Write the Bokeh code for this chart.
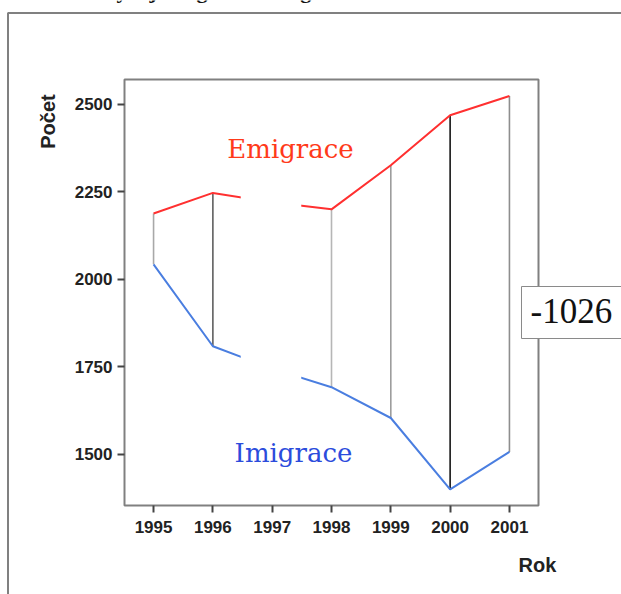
from math import pi
from bokeh.plotting import figure
from bokeh.models import Label, BoxAnnotation, Range1d, FixedTicker
from bokeh.core.properties import value
from bokeh.embed import file_html
from bokeh.resources import INLINE

# ---- data ----
years = [1995, 1996, 1997, 1998, 1999, 2000, 2001]
emigrace = [2188, 2247, 2220, 2200, 2326, 2469, 2524]
imigrace = [2043, 1809, 1745, 1692, 1604, 1400, 1507]
hidden_year = 1997
saldo_text = "-1026"
y_ticks = [1500, 1750, 2000, 2250, 2500]
series_names = ["Emigrace", "Imigrace"]
x_title = "Rok"
y_title = "Počet"
chart_title = "Vývoj emigrace a imigrace"

# ---- styles / geometry ----
connector_colors = ["#a8a8a8", "#5e5e5e", "#888888", "#b6b6b6", "#9c9c9c", "#151515", "#8e8e8e"]
W, H = 621, 594
PL, PR, PT, PB = 124, 538, 79, 505          # plot rectangle in pixels
X0, X1 = 1994.51, 2001.49                   # data extent of the plot rectangle
Y0, Y1 = 1354, 2571


def dx(px):
    return X0 + (px - PL) / (PR - PL) * (X1 - X0)


def dy(py):
    return Y1 - (py - PT) / (PB - PT) * (Y1 - Y0)


p = figure(width=W, height=H, output_backend="svg", toolbar_location=None,
           x_range=Range1d(dx(0), dx(W)), y_range=Range1d(dy(H), dy(0)),
           min_border=0)

p.xgrid.visible = False
p.ygrid.visible = False
p.outline_line_color = None
p.background_fill_color = "white"
p.border_fill_color = "white"

p.xaxis.ticker = FixedTicker(ticks=years)
p.yaxis.ticker = FixedTicker(ticks=y_ticks)
p.xaxis.fixed_location = Y0
p.yaxis.fixed_location = X0
for ax in (p.xaxis, p.yaxis):
    ax.axis_line_color = None
    ax.major_tick_in = 0
    ax.major_tick_out = 7
    ax.major_tick_line_width = 2
    ax.major_tick_line_color = "#444444"
    ax.minor_tick_line_color = None
    ax.major_label_text_font = "Liberation Sans"
    ax.major_label_text_font_style = "bold"
    ax.major_label_text_font_size = "17px"
    ax.major_label_text_color = "#222222"
p.xaxis.major_label_standoff = 8
p.yaxis.major_label_standoff = 5

# plot rectangle
p.add_layout(BoxAnnotation(left=X0, right=X1, bottom=Y0, top=Y1, fill_color=None,
                           line_color="#808080", line_alpha=1.0, line_width=2,
                           level="underlay"))

# connectors
p.segment(x0=years, y0=imigrace, x1=years, y1=emigrace,
          line_color=connector_colors, line_width=1.6)
# series lines
p.line(years, emigrace, line_color="#ff3030", line_width=2)
p.line(years, imigrace, line_color="#4a7ee0", line_width=2)
# white mask over the hidden year
p.quad(left=[hidden_year - 0.53], right=[hidden_year + 0.49],
       bottom=[Y0 + 10], top=[Y1 - 10], fill_color="white", line_color=None)

# series names
p.text(x=[dx(290)], y=[dy(148)], text=[series_names[0]],
       text_font=value("DejaVu Serif"), text_font_size="26px",
       text_color="#ff3a1a", text_align="center", text_baseline="alphabetic")
p.text(x=[dx(293)], y=[dy(452)], text=[series_names[1]],
       text_font=value("DejaVu Serif"), text_font_size="26px",
       text_color="#2b4cdc", text_align="center", text_baseline="alphabetic")

# axis titles
p.add_layout(Label(x=dx(47), y=dy(121), text=y_title, angle=pi / 2,
                   text_align="center", text_baseline="middle",
                   text_font="Liberation Sans", text_font_style="bold",
                   text_font_size="20px", text_color="#222222"))
p.add_layout(Label(x=dx(537), y=dy(564), text=x_title,
                   text_align="center", text_baseline="middle",
                   text_font="Liberation Sans", text_font_style="bold",
                   text_font_size="20px", text_color="#222222"))

# saldo box
p.add_layout(Label(x=dx(521), y=dy(286), text=saldo_text,
                   text_align="left", text_baseline="top",
                   text_font="Liberation Serif", text_font_size="35px",
                   text_color="#111111", background_fill_color="white",
                   border_line_color="#8a8a8a", border_line_width=1,
                   padding=dict(left=9, right=30, top=12, bottom=16)))

# outer frame
p.add_layout(BoxAnnotation(left=dx(7.5), right=dx(W + 60), top=dy(12.5), bottom=dy(H + 60),
                           fill_color=None, line_color="#808080", line_alpha=1.0,
                           line_width=2))

# chart title (mostly above the visible page, only descenders show)
p.add_layout(Label(x=dx(100), y=dy(-10), text=chart_title,
                   text_align="left", text_baseline="alphabetic",
                   text_font="Liberation Serif", text_font_style="bold",
                   text_font_size="22px", text_color="#111111"))

open("out.html", "w").write(file_html(p, INLINE))
